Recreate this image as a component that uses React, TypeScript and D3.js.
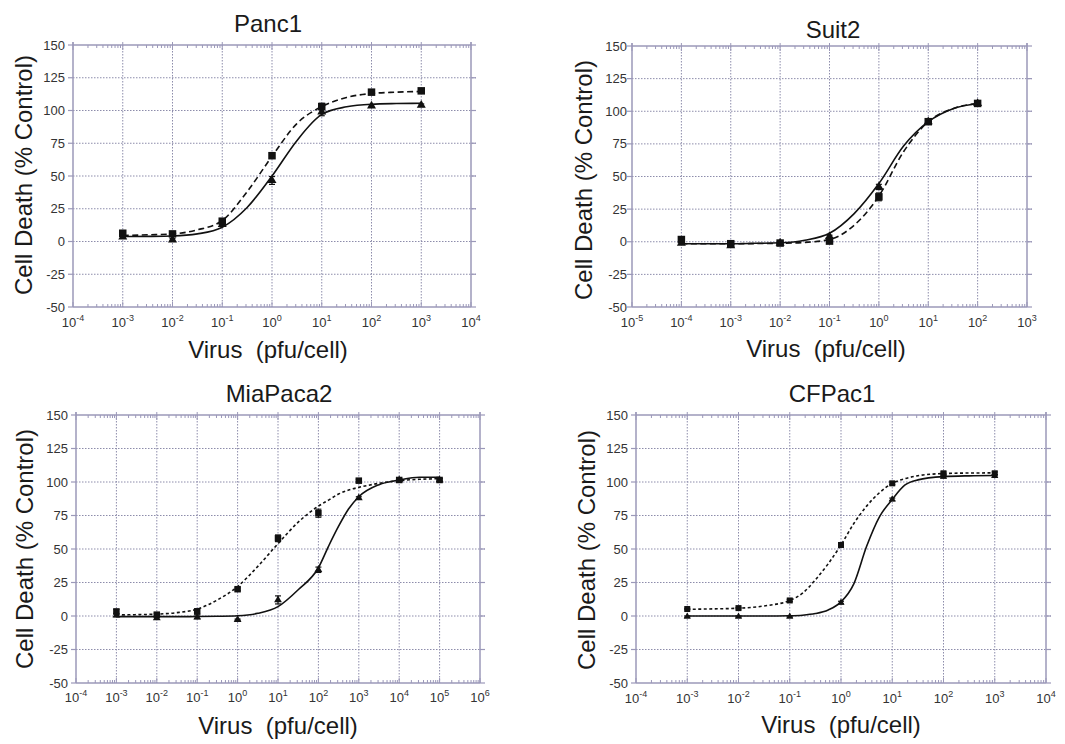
import React, { useEffect, useRef } from 'react';
import * as d3 from 'd3';

// ---- Panc1 (x values are log10 of pfu/cell)
const panc1Dose = [-3, -2, -1, 0, 1, 2, 3];
const panc1Square = [6.3, 5.8, 15.5, 65.5, 103, 114, 115];
const panc1SquareErr = [1.2, 1, 1.5, 2, 2.5, 1, 1];
const panc1Triangle = [3.5, 1.2, 13, 46.6, 99, 103.5, 104];
const panc1TriangleErr = [1, 1, 1, 3, 3, 1, 1];
const panc1CurveDose = [-3, -2.5, -2, -1.5, -1, -0.5, 0, 0.5, 1, 1.5, 2, 2.5, 3];
const panc1SquareCurve = [4.6, 5.1, 5.8, 8.9, 16, 38, 65, 90, 103, 110, 113, 114, 114.5];
const panc1TriangleCurve = [3.8, 3.9, 4.2, 5.8, 10.9, 26, 50, 77, 97, 102.8, 104.8, 105.3, 105.5];

// ---- Suit2
const suit2Dose = [-4, -3, -2, -1, 0, 1, 2];
const suit2Square = [1.7, -1.5, -1, 0.5, 34.4, 92, 106];
const suit2SquareErr = [2, 1, 1, 1.5, 3, 1, 1];
const suit2Triangle = [-1, -3, -1, 4, 42, 92, 106];
const suit2TriangleErr = [1, 1, 1, 1, 2, 1, 1];
const suit2CurveDose = [-4, -3.5, -3, -2.5, -2, -1.5, -1, -0.5, 0, 0.5, 1, 1.5, 2];
const suit2SquareCurve = [-1.5, -1.5, -1.5, -1.4, -1.2, -0.5, 1.7, 12.7, 35, 69, 92, 102, 106];
const suit2TriangleCurve = [-1.5, -1.5, -1.5, -1.2, -0.8, 1.2, 6.5, 21.6, 44.6, 73.3, 92, 102, 106];

// ---- MiaPaca2
const miaDose = [-3, -2, -1, 0, 1, 2, 3, 4, 5];
const miaSquare = [3.4, 1, 3.4, 20, 58, 76.7, 101, 101.5, 101.5];
const miaSquareErr = [1.5, 1, 2, 1, 2.5, 3, 1, 1, 1];
const miaTriangle = [0.5, -1.5, -1, -2.8, 12, 34.5, 88, 101.5, 101.5];
const miaTriangleErr = [1, 1, 1, 0.5, 3, 2, 1, 1, 1];
const miaCurveDose = [-3, -2.5, -2, -1.5, -1, -0.5, 0, 0.5, 1, 1.5, 2, 2.25, 2.5, 2.75, 3, 3.5, 4, 4.5, 5];
const miaSquareCurve = [0.8, 1, 1.4, 2.5, 5.2, 12, 22, 37, 54, 70, 82, 86.5, 91, 94, 96, 99, 101, 102, 102.5];
const miaTriangleCurve = [-0.5, -0.5, -0.5, -0.5, -0.4, -0.2, 0.2, 2, 7, 19.6, 36, 52, 67, 80, 89, 98, 101.5, 103.5, 103.5];

// ---- CFPac1
const cfDose = [-3, -2, -1, 0, 1, 2, 3];
const cfSquare = [5.2, 5.9, 11.6, 53, 99, 106.5, 106.5];
const cfSquareErr = [0.5, 0.5, 0.8, 1, 1, 1, 1];
const cfTriangle = [-0.5, -0.5, -0.5, 10, 87, 104, 104.5];
const cfTriangleErr = [0.5, 0.5, 0.5, 1, 1, 1, 1];
const cfCurveDose = [-3, -2.5, -2, -1.5, -1, -0.75, -0.5, -0.25, 0, 0.25, 0.5, 0.75, 1, 1.25, 1.5, 2, 2.5, 3];
const cfSquareCurve = [5, 5.3, 5.8, 7.5, 11.6, 17, 27, 39, 53, 69, 82, 92, 99, 102.5, 104.7, 106.3, 106.7, 106.8];
const cfTriangleCurve = [0, 0, 0, 0, 0.2, 0.6, 1.8, 4.5, 10.5, 24, 52, 74, 87, 97.8, 101.6, 104, 104.6, 104.8];

const yTickValues = [-50, -25, 0, 25, 50, 75, 100, 125, 150];

const AXIS = '#9b98b9';
const GRID = '#8d8cab';
const INK = '#111';
const FONT = '"Liberation Sans", Arial, Helvetica, sans-serif';

const panels = [
  {
    title: 'Panc1', dose: panc1Dose, sq: panc1Square, sqErr: panc1SquareErr, tri: panc1Triangle, triErr: panc1TriangleErr,
    curveDose: panc1CurveDose, sqCurve: panc1SquareCurve, triCurve: panc1TriangleCurve,
    xMin: -4, xMax: 4, left: 73, right: 471, top: 45, bottom: 307,
    titleX: 268, titleY: 32, xLabelX: 268, xLabelY: 358, tickY: 327, yTickRight: 65, yLabelX: 32, yLabelY: 175,
    dash: '6,3.5', marker: 7.5,
  },
  {
    title: 'Suit2', dose: suit2Dose, sq: suit2Square, sqErr: suit2SquareErr, tri: suit2Triangle, triErr: suit2TriangleErr,
    curveDose: suit2CurveDose, sqCurve: suit2SquareCurve, triCurve: suit2TriangleCurve,
    xMin: -5, xMax: 3, left: 632, right: 1027, top: 46, bottom: 307,
    titleX: 833, titleY: 38, xLabelX: 826, xLabelY: 357, tickY: 327, yTickRight: 627, yLabelX: 592, yLabelY: 180,
    dash: '6,3.5', marker: 7.5,
  },
  {
    title: 'MiaPaca2', dose: miaDose, sq: miaSquare, sqErr: miaSquareErr, tri: miaTriangle, triErr: miaTriangleErr,
    curveDose: miaCurveDose, sqCurve: miaSquareCurve, triCurve: miaTriangleCurve,
    xMin: -4, xMax: 6, left: 76, right: 480, top: 415, bottom: 683,
    titleX: 279, titleY: 402, xLabelX: 278, xLabelY: 734, tickY: 702, yTickRight: 68, yLabelX: 33, yLabelY: 549,
    dash: '3,2.5', marker: 6.5,
  },
  {
    title: 'CFPac1', dose: cfDose, sq: cfSquare, sqErr: cfSquareErr, tri: cfTriangle, triErr: cfTriangleErr,
    curveDose: cfCurveDose, sqCurve: cfSquareCurve, triCurve: cfTriangleCurve,
    xMin: -4, xMax: 4, left: 636, right: 1046, top: 415, bottom: 683,
    titleX: 832, titleY: 402, xLabelX: 841, xLabelY: 733, tickY: 703, yTickRight: 628, yLabelX: 595, yLabelY: 550,
    dash: '3,2.5', marker: 6,
  },
];

function drawPanel(svg: any, p: any) {
  const x = d3.scaleLog().domain([10 ** p.xMin, 10 ** p.xMax]).range([p.left, p.right]);
  const y = d3.scaleLinear().domain([-50, 150]).range([p.bottom, p.top]);
  const g = svg.append('g');

  const decades = d3.range(p.xMin, p.xMax + 1);
  const minors: number[] = [];
  decades.slice(0, -1).forEach((d: number) => {
    for (let k = 2; k <= 9; k++) minors.push(k * 10 ** d);
  });

  // dotted grid
  g.selectAll('.hg').data(yTickValues.slice(1, -1)).join('line')
    .attr('x1', p.left).attr('x2', p.right + 5)
    .attr('y1', (d: number) => y(d)).attr('y2', (d: number) => y(d))
    .attr('stroke', GRID).attr('stroke-width', 1).attr('stroke-dasharray', '1.5,1.5');
  g.selectAll('.vg').data(decades.slice(1, -1)).join('line')
    .attr('x1', (d: number) => x(10 ** d)).attr('x2', (d: number) => x(10 ** d))
    .attr('y1', p.top).attr('y2', p.bottom)
    .attr('stroke', GRID).attr('stroke-width', 1).attr('stroke-dasharray', '1.5,1.5');

  // frame
  const frame = g.append('g').attr('stroke', AXIS).attr('stroke-width', 1.5);
  frame.append('line').attr('x1', p.left).attr('x2', p.right).attr('y1', p.top).attr('y2', p.top);
  frame.append('line').attr('x1', p.left).attr('x2', p.right).attr('y1', p.bottom).attr('y2', p.bottom);
  frame.append('line').attr('x1', p.left).attr('x2', p.left).attr('y1', p.top - 3).attr('y2', p.bottom);
  frame.append('line').attr('x1', p.right).attr('x2', p.right).attr('y1', p.top - 3).attr('y2', p.bottom);

  // y ticks, outward on both sides
  const yt = g.append('g').attr('stroke', AXIS).attr('stroke-width', 1.2);
  yTickValues.forEach((v) => {
    yt.append('line').attr('x1', p.left - 5).attr('x2', p.left).attr('y1', y(v)).attr('y2', y(v));
    yt.append('line').attr('x1', p.right).attr('x2', p.right + 5).attr('y1', y(v)).attr('y2', y(v));
  });

  // x ticks, inward on top and bottom
  const xt = g.append('g').attr('stroke', AXIS).attr('stroke-width', 1);
  minors.forEach((m) => {
    xt.append('line').attr('x1', x(m)).attr('x2', x(m)).attr('y1', p.top).attr('y2', p.top + 3);
    xt.append('line').attr('x1', x(m)).attr('x2', x(m)).attr('y1', p.bottom).attr('y2', p.bottom - 3);
  });
  decades.forEach((d: number) => {
    xt.append('line').attr('x1', x(10 ** d)).attr('x2', x(10 ** d)).attr('y1', p.top - 3).attr('y2', p.top + 5);
    xt.append('line').attr('x1', x(10 ** d)).attr('x2', x(10 ** d)).attr('y1', p.bottom).attr('y2', p.bottom - 5);
  });

  // tick labels
  g.selectAll('.yl').data(yTickValues).join('text')
    .attr('x', p.yTickRight).attr('y', (d: number) => y(d) + 4.5)
    .attr('text-anchor', 'end').attr('font-size', 13).attr('fill', '#333')
    .attr('font-family', FONT).text((d: number) => d);

  decades.forEach((d: number) => {
    const t = g.append('text')
      .attr('x', x(10 ** d)).attr('y', p.tickY)
      .attr('text-anchor', 'middle').attr('font-size', 13).attr('fill', '#333')
      .attr('font-family', FONT);
    t.append('tspan').text('10');
    t.append('tspan').attr('dy', -6).attr('font-size', 9).text(String(d));
  });

  // curves
  const line = d3.line<[number, number]>()
    .x((d) => x(10 ** d[0]))
    .y((d) => y(d[1]))
    .curve(d3.curveMonotoneX);
  const triPts = p.curveDose.map((d: number, i: number) => [d, p.triCurve[i]]);
  const sqPts = p.curveDose.map((d: number, i: number) => [d, p.sqCurve[i]]);
  g.append('path').attr('d', line(triPts)).attr('fill', 'none')
    .attr('stroke', INK).attr('stroke-width', 1.6);
  g.append('path').attr('d', line(sqPts)).attr('fill', 'none')
    .attr('stroke', INK).attr('stroke-width', 1.6).attr('stroke-dasharray', p.dash);

  // error bars
  const err = g.append('g').attr('stroke', INK).attr('stroke-width', 1.2);
  const drawErr = (vals: number[], errs: number[]) => {
    p.dose.forEach((d: number, i: number) => {
      const cx = x(10 ** d);
      const y1 = y(vals[i] + errs[i]);
      const y2 = y(vals[i] - errs[i]);
      err.append('line').attr('x1', cx).attr('x2', cx).attr('y1', y1).attr('y2', y2);
      err.append('line').attr('x1', cx - 3).attr('x2', cx + 3).attr('y1', y1).attr('y2', y1);
      err.append('line').attr('x1', cx - 3).attr('x2', cx + 3).attr('y1', y2).attr('y2', y2);
    });
  };
  drawErr(p.tri, p.triErr);
  drawErr(p.sq, p.sqErr);

  // markers
  const s = p.marker;
  const tri = d3.symbol().type(d3.symbolTriangle).size(s * s * 0.62);
  g.selectAll('.tri').data(p.dose).join('path')
    .attr('d', tri())
    .attr('transform', (d: number, i: number) => `translate(${x(10 ** d)},${y(p.tri[i])})`)
    .attr('fill', INK);
  g.selectAll('.sq').data(p.dose).join('rect')
    .attr('x', (d: number) => x(10 ** d) - s / 2)
    .attr('y', (d: number, i: number) => y(p.sq[i]) - s / 2)
    .attr('width', s).attr('height', s)
    .attr('fill', INK);

  // titles
  g.append('text').attr('x', p.titleX).attr('y', p.titleY).attr('text-anchor', 'middle')
    .attr('font-size', 24).attr('font-family', FONT).attr('fill', '#1a1a1a').text(p.title);
  g.append('text').attr('x', p.xLabelX).attr('y', p.xLabelY).attr('text-anchor', 'middle')
    .attr('font-size', 24).attr('font-family', FONT).attr('fill', '#1a1a1a')
    .attr('xml:space', 'preserve').style('white-space', 'pre').text('Virus  (pfu/cell)');
  g.append('text')
    .attr('transform', `translate(${p.yLabelX},${p.yLabelY}) rotate(-90)`)
    .attr('text-anchor', 'middle')
    .attr('font-size', 24).attr('font-family', FONT).attr('fill', '#1a1a1a')
    .text('Cell Death (% Control)');
}

const App = () => {
  const chartRef = useRef<SVGSVGElement | null>(null);

  useEffect(() => {
    const svg = d3.select(chartRef.current);
    svg.selectAll('*').remove();
    panels.forEach((p) => drawPanel(svg, p));
    return () => {
      svg.selectAll('*').remove();
    };
  }, []);

  return (
    <svg
      ref={chartRef}
      width={1065}
      height={744}
      style={{ position: 'absolute', left: 0, top: 0, background: '#fff' }}
    />
  );
};

export default App;
